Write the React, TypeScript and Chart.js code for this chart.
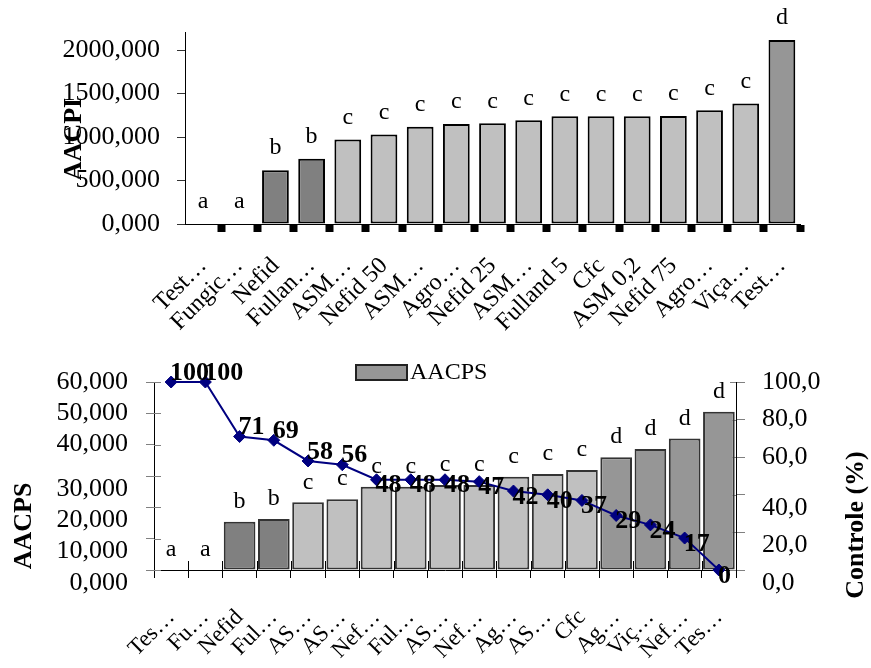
import React, { useEffect, useRef } from 'react';
import { Chart, registerables } from 'chart.js';

Chart.register(...registerables);

const FONT = "'Liberation Serif', 'Times New Roman', serif";

// ---- Top chart data (AACPI) ----
const topCategories = ['Test…', 'Fungic…', 'Nefid', 'Fullan…', 'ASM…', 'Nefid 50', 'ASM…', 'Agro…', 'Nefid 25', 'ASM…', 'Fulland 5', 'Cfc', 'ASM 0,2', 'Nefid 75', 'Agro…', 'Viça…', 'Test…'];
const aacpiValues = [0, 0, 619, 751, 972, 1028, 1119, 1149, 1157, 1193, 1238, 1238, 1238, 1241, 1307, 1384, 2114];
const aacpiLetters = ['a', 'a', 'b', 'b', 'c', 'c', 'c', 'c', 'c', 'c', 'c', 'c', 'c', 'c', 'c', 'c', 'd'];
const aacpiTicks = [0, 500, 1000, 1500, 2000];

// ---- Bottom chart data (AACPS + Controle) ----
const bottomCategories = ['Tes…', 'Fu…', 'Nefid', 'Ful…', 'AS…', 'AS…', 'Nef…', 'Ful…', 'AS…', 'Nef…', 'Ag…', 'AS…', 'Cfc', 'Ag…', 'Viç…', 'Nef…', 'Tes…'];
const aacpsValues = [0, 0, 15.4, 16.3, 21.6, 22.6, 26.6, 26.6, 27.1, 27.1, 29.8, 30.6, 31.9, 36.0, 38.6, 42.0, 50.5];
const aacpsLetters = ['a', 'a', 'b', 'b', 'c', 'c', 'c', 'c', 'c', 'c', 'c', 'c', 'c', 'd', 'd', 'd', 'd'];
const controleValues = [100, 100, 71, 69, 58, 56, 48, 48, 48, 47, 42, 40, 37, 29, 24, 17, 0];
const aacpsTicks = [0, 10, 20, 30, 40, 50, 60];
const controleTicks = [0, 20, 40, 60, 80, 100];

const letterColor: Record<string, string> = { a: '#c0c0c0', b: '#808080', c: '#c0c0c0', d: '#969696' };

const fmt = (v: number, d: number) => Number(v).toFixed(d).replace('.', ',');

function drawRotated(ctx: CanvasRenderingContext2D, text: string, x: number, y: number, font: string) {
  ctx.save();
  ctx.translate(x, y);
  ctx.rotate(-Math.PI / 2);
  ctx.font = font;
  ctx.fillStyle = '#000';
  ctx.textAlign = 'center';
  ctx.textBaseline = 'middle';
  ctx.fillText(text, 0, 0);
  ctx.restore();
}

const topPlugin = {
  id: 'topDecor',
  afterDatasetsDraw(chart: any) {
    const ctx = chart.ctx as CanvasRenderingContext2D;
    const meta = chart.getDatasetMeta(0);
    ctx.save();
    ctx.font = `24px ${FONT}`;
    ctx.fillStyle = '#000';
    ctx.textAlign = 'center';
    ctx.textBaseline = 'middle';
    meta.data.forEach((bar: any, i: number) => {
      ctx.fillText(aacpiLetters[i], bar.x, bar.y - 22);
    });
    ctx.restore();
  },
  afterDraw(chart: any) {
    drawRotated(chart.ctx, 'AACPI', 74, 139, `bold 26px ${FONT}`);
  },
};

const bottomPlugin = {
  id: 'bottomDecor',
  beforeDatasetsDraw(chart: any) {
    const ctx = chart.ctx as CanvasRenderingContext2D;
    const { left, right, bottom } = chart.chartArea;
    const n = bottomCategories.length;
    ctx.save();
    ctx.lineWidth = 1;
    ctx.strokeStyle = '#000';
    for (let k = 1; k <= n; k++) {
      const x = Math.round(left + ((right - left) * k) / n) + 0.5;
      ctx.beginPath();
      ctx.moveTo(x, bottom);
      ctx.lineTo(x, bottom - 9);
      ctx.stroke();
    }
    ctx.strokeStyle = '#808080';
    const y = chart.scales.y;
    y.ticks.forEach((t: any) => {
      const py = Math.round(y.getPixelForValue(t.value)) + 0.5;
      ctx.beginPath();
      ctx.moveTo(left, py);
      ctx.lineTo(left + 7, py);
      ctx.stroke();
    });
    const y1 = chart.scales.y1;
    y1.ticks.forEach((t: any) => {
      const py = Math.round(y1.getPixelForValue(t.value)) + 0.5;
      ctx.beginPath();
      ctx.moveTo(right, py);
      ctx.lineTo(right - 6, py);
      ctx.stroke();
    });
    ctx.restore();
  },
  afterDatasetsDraw(chart: any) {
    const ctx = chart.ctx as CanvasRenderingContext2D;
    const bars = chart.getDatasetMeta(1).data;
    const pts = chart.getDatasetMeta(0).data;
    ctx.save();
    ctx.fillStyle = '#000';
    ctx.textAlign = 'center';
    ctx.textBaseline = 'middle';
    ctx.font = `24px ${FONT}`;
    bars.forEach((bar: any, i: number) => {
      ctx.fillText(aacpsLetters[i], bar.x, bar.y - 20);
    });
    ctx.font = `bold 26px ${FONT}`;
    ctx.textAlign = 'left';
    pts.forEach((p: any, i: number) => {
      const v = controleValues[i];
      const dy = v >= 50 ? -9 : 6;
      ctx.fillText(String(v), p.x - 1, p.y + dy);
    });
    ctx.restore();
  },
  afterDraw(chart: any) {
    const ctx = chart.ctx as CanvasRenderingContext2D;
    drawRotated(ctx, 'AACPS', 24, 186, `bold 26px ${FONT}`);
    drawRotated(ctx, 'Controle (%)', 856, 185, `bold 26px ${FONT}`);
    // legend
    ctx.save();
    ctx.fillStyle = '#969696';
    ctx.fillRect(356, 25, 51, 15);
    ctx.strokeStyle = '#222';
    ctx.lineWidth = 2;
    ctx.strokeRect(356, 25, 51, 15);
    ctx.fillStyle = '#000';
    ctx.font = `24px ${FONT}`;
    ctx.textAlign = 'left';
    ctx.textBaseline = 'middle';
    ctx.fillText('AACPS', 410, 33);
    ctx.restore();
  },
};

export default function App() {
  const topRef = useRef<HTMLCanvasElement | null>(null);
  const botRef = useRef<HTMLCanvasElement | null>(null);

  useEffect(() => {
    Chart.defaults.font.family = FONT;
    Chart.defaults.color = '#000';

    const top = new Chart(topRef.current as HTMLCanvasElement, {
      type: 'bar',
      data: {
        labels: topCategories,
        datasets: [
          {
            label: 'AACPI',
            data: aacpiValues,
            backgroundColor: aacpiLetters.map((l) => letterColor[l]),
            borderColor: '#000',
            borderWidth: 2,
            borderSkipped: false,
            barPercentage: 0.74,
            categoryPercentage: 1,
          },
        ],
      },
      options: {
        responsive: false,
        animation: false,
        devicePixelRatio: 1,
        layout: { padding: { top: 25, right: 71, left: 0, bottom: 0 } },
        plugins: { legend: { display: false }, tooltip: { enabled: false } },
        scales: {
          x: {
            grid: {
              display: true,
              drawOnChartArea: false,
              offset: true,
              tickLength: 8,
              tickWidth: (c: any) => (c.index === 0 ? 0 : 8),
              tickColor: '#000',
            },
            border: { color: '#000', width: 1 },
            ticks: {
              autoSkip: false,
              minRotation: 45,
              maxRotation: 45,
              padding: 20,
              color: '#000',
              font: { family: FONT, size: 24 },
            },
            afterFit: (s: any) => {
              s.height = 116;
            },
          },
          y: {
            min: 0,
            max: 2200,
            afterBuildTicks: (s: any) => {
              s.ticks = aacpiTicks.map((v) => ({ value: v }));
            },
            grid: { drawOnChartArea: false, tickLength: 8, tickColor: '#333' },
            border: { color: '#000', width: 1 },
            ticks: {
              autoSkip: false,
              padding: 17,
              color: '#000',
              font: { family: FONT, size: 26 },
              callback: (v: any) => fmt(v, 3),
            },
            afterFit: (s: any) => {
              s.width = 185;
            },
          },
        },
      },
      plugins: [topPlugin],
    } as any);

    const bot = new Chart(botRef.current as HTMLCanvasElement, {
      type: 'bar',
      data: {
        labels: bottomCategories,
        datasets: [
          {
            type: 'line',
            label: 'Controle (%)',
            data: controleValues,
            yAxisID: 'y1',
            borderColor: '#000080',
            backgroundColor: '#000080',
            borderWidth: 2,
            pointStyle: 'rectRot',
            pointRadius: 6,
            pointBorderWidth: 1,
            order: 0,
            clip: false,
          },
          {
            type: 'bar',
            label: 'AACPS',
            data: aacpsValues,
            yAxisID: 'y',
            backgroundColor: aacpsLetters.map((l) => letterColor[l]),
            borderColor: '#333',
            borderWidth: 2,
            borderSkipped: false,
            barPercentage: 0.925,
            categoryPercentage: 1,
            order: 1,
          },
        ],
      },
      options: {
        responsive: false,
        animation: false,
        devicePixelRatio: 1,
        layout: { padding: { top: 42, right: 0, left: 0, bottom: 0 } },
        plugins: { legend: { display: false }, tooltip: { enabled: false } },
        scales: {
          x: {
            offset: true,
            grid: { display: true, drawOnChartArea: false, offset: true, tickLength: 8, tickColor: '#000' },
            border: { color: '#000', width: 1 },
            ticks: {
              autoSkip: false,
              minRotation: 45,
              maxRotation: 45,
              padding: 26,
              color: '#000',
              font: { family: FONT, size: 23 },
            },
            afterFit: (s: any) => {
              s.height = 98;
            },
          },
          y: {
            position: 'left',
            min: 0,
            max: 60,
            afterBuildTicks: (s: any) => {
              s.ticks = aacpsTicks.map((v) => ({ value: v }));
            },
            grid: { drawOnChartArea: false, tickLength: 8, tickColor: '#808080' },
            border: { color: '#000', width: 1 },
            ticks: {
              autoSkip: false,
              padding: 18,
              color: '#000',
              font: { family: FONT, size: 26, lineHeight: 1 },
              callback: (v: any) => (v <= 30 ? ['', fmt(v, 3)] : fmt(v, 3)),
            },
            afterFit: (s: any) => {
              s.width = 154;
            },
          },
          y1: {
            position: 'right',
            min: 0,
            max: 100,
            afterBuildTicks: (s: any) => {
              s.ticks = controleTicks.map((v) => ({ value: v }));
            },
            grid: { drawOnChartArea: false, tickLength: 9, tickColor: '#808080' },
            border: { color: '#000', width: 1 },
            ticks: {
              autoSkip: false,
              padding: 17,
              color: '#000',
              font: { family: FONT, size: 26, lineHeight: 1 },
              callback: (v: any) => (v <= 40 ? ['', fmt(v, 1)] : fmt(v, 1)),
            },
            afterFit: (s: any) => {
              s.width = 135;
            },
          },
        },
      },
      plugins: [bottomPlugin],
    } as any);

    return () => {
      top.destroy();
      bot.destroy();
    };
  }, []);

  return (
    <div style={{ position: 'absolute', left: 0, top: 0, width: 871, height: 668, background: '#fff' }}>
      <canvas ref={topRef} width={871} height={340} style={{ position: 'absolute', left: 0, top: 0, width: 871, height: 340 }} />
      <canvas ref={botRef} width={871} height={328} style={{ position: 'absolute', left: 0, top: 340, width: 871, height: 328 }} />
    </div>
  );
}
